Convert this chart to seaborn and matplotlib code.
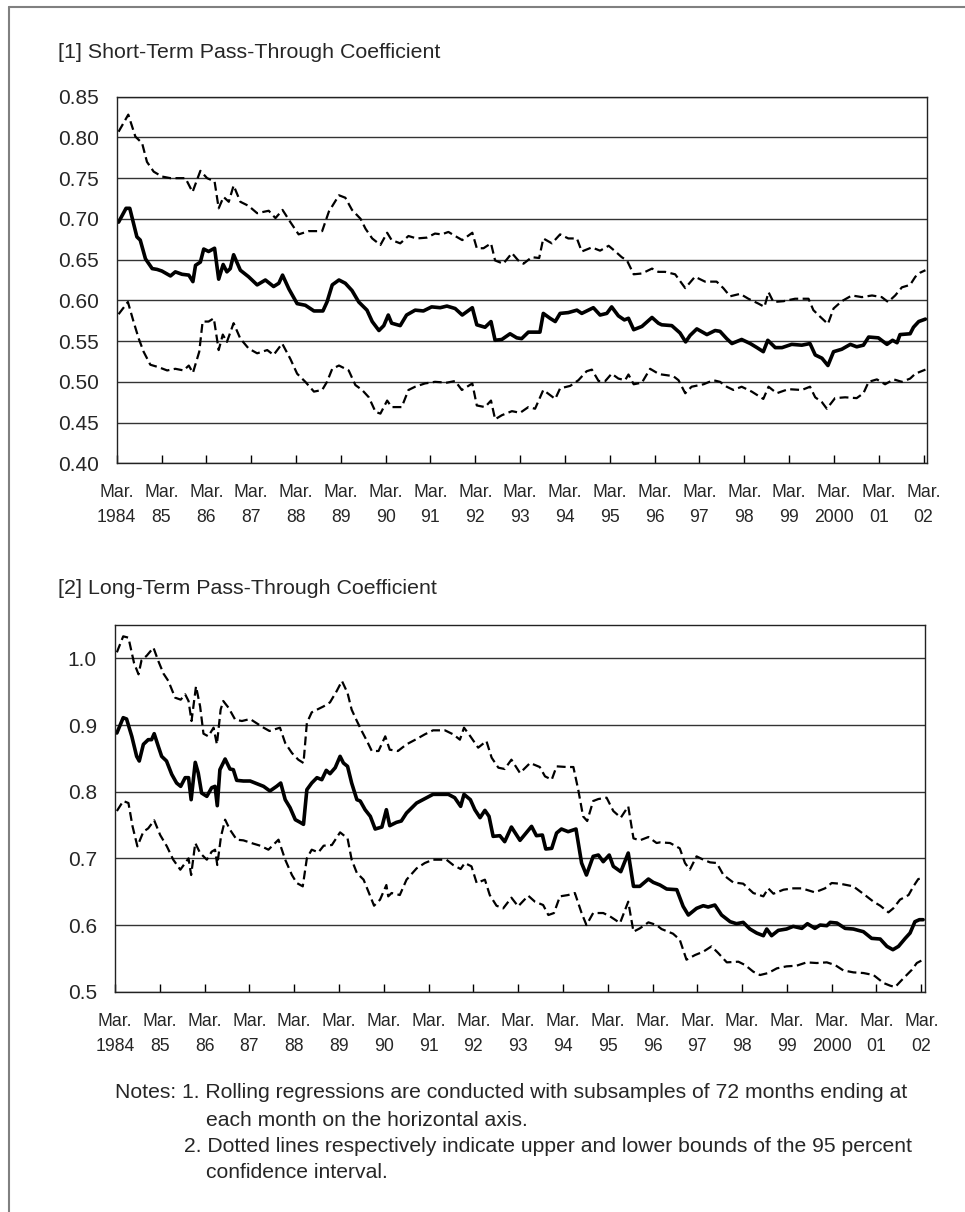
import matplotlib
matplotlib.use("Agg")
import matplotlib.pyplot as plt
from matplotlib.lines import Line2D
import seaborn as sns

# month index: 0 = Mar. 1984 ... 216 = Mar. 2002

# [1] short-term pass-through coefficient
short_mid_month = [0, 2, 3, 4.9, 5.8, 7.2, 9, 10.3, 11.6, 13.9, 15.2, 17, 18.8, 19.9, 20.6, 21.9, 22.8, 24.1,
                   25.7, 26.8, 28, 29, 29.9, 30.8, 32.6, 34.8, 37.1, 39.3, 41.5, 42.9, 43.9, 45.6, 47.8, 50,
                   52.3, 54.7, 55.8, 57.2, 59, 60.7, 62.5, 64.3, 66.5, 67.9, 69.7, 71, 72.2, 73.1, 75.4, 77.1,
                   79.4, 81.6, 83.8, 86.1, 87.9, 90.1, 92, 93.2, 94.7, 95.9, 98.1, 99.7, 100.8, 102.6, 104.8,
                   106.6, 107.9, 109.7, 112.8, 113.7, 115.5, 116.9, 118.2, 120.4, 122.7, 124, 127.1, 128.9,
                   130.7, 132, 133.8, 135.4, 136.5, 137.9, 140.1, 142.8, 144.5, 145.4, 148.1, 150.3, 151.8,
                   153, 154.8, 157.5, 159.7, 161, 162.8, 164.2, 166.8, 169.1, 170.9, 172.6, 173.8, 175.8,
                   177.6, 180.2, 182.9, 185.1, 186.5, 188.3, 189.9, 191.4, 193.6, 195.9, 197.6, 199.4, 200.8,
                   203.4, 205.7, 207.2, 208.4, 209.2, 211.9, 212.8, 214.2, 216]
short_mid_value = [0.696, 0.713, 0.713, 0.678, 0.674, 0.651, 0.639, 0.638, 0.636, 0.630, 0.635, 0.632, 0.631,
                   0.623, 0.643, 0.647, 0.663, 0.660, 0.664, 0.626, 0.644, 0.635, 0.639, 0.656, 0.637, 0.629,
                   0.619, 0.625, 0.617, 0.621, 0.631, 0.614, 0.596, 0.594, 0.587, 0.587, 0.598, 0.619, 0.625,
                   0.621, 0.612, 0.598, 0.588, 0.574, 0.563, 0.569, 0.582, 0.572, 0.569, 0.582, 0.588, 0.587,
                   0.592, 0.591, 0.593, 0.590, 0.582, 0.586, 0.591, 0.570, 0.567, 0.574, 0.551, 0.552, 0.559,
                   0.554, 0.553, 0.561, 0.561, 0.584, 0.578, 0.574, 0.584, 0.585, 0.588, 0.584, 0.591, 0.582,
                   0.584, 0.592, 0.581, 0.576, 0.578, 0.564, 0.568, 0.579, 0.572, 0.570, 0.569, 0.560, 0.549,
                   0.557, 0.565, 0.558, 0.563, 0.562, 0.553, 0.547, 0.552, 0.547, 0.542, 0.537, 0.551, 0.542,
                   0.542, 0.546, 0.545, 0.547, 0.533, 0.529, 0.520, 0.537, 0.540, 0.546, 0.543, 0.545, 0.555,
                   0.554, 0.546, 0.551, 0.548, 0.558, 0.559, 0.567, 0.574, 0.577]

short_up_month = [0, 2.6, 4.5, 6.3, 7.6, 9.4, 11.6, 13.9, 16.1, 17.9, 19.8, 21.9, 23.7, 25.7, 26.8, 28.1, 29.5,
                  30.8, 32.6, 34.8, 37.1, 40.2, 42, 43.9, 46, 48.2, 50.9, 54.5, 56.3, 59, 60.7, 62.5, 64.8,
                  66.1, 67.9, 70.1, 71.9, 73.1, 75.4, 77.6, 79.8, 82.5, 84.7, 86.5, 88.3, 90.1, 92, 94.7, 95.9,
                  97.7, 99.7, 100.8, 103, 105.3, 107, 108.4, 110.6, 112.6, 113.7, 116, 118.2, 120.4, 122.7,
                  124, 126.7, 128.9, 131.2, 133, 134.7, 136.1, 137.9, 140.1, 142.8, 144.5, 146.3, 149, 151.7,
                  154.3, 157, 160.1, 161.9, 163.7, 166.4, 168.6, 171.3, 172.9, 174, 175.3, 178, 181.1, 184.7,
                  186, 187.8, 189.9, 191.4, 193.6, 196.3, 199, 201.7, 204.3, 206, 207.9, 209.7, 211.9, 213.3,
                  214.6, 216]
short_up_value = [0.807, 0.828, 0.801, 0.793, 0.770, 0.758, 0.752, 0.750, 0.750, 0.750, 0.733, 0.759, 0.750,
                  0.746, 0.713, 0.727, 0.721, 0.741, 0.721, 0.716, 0.707, 0.710, 0.701, 0.711, 0.696, 0.681,
                  0.685, 0.685, 0.709, 0.729, 0.726, 0.711, 0.700, 0.688, 0.676, 0.668, 0.683, 0.674, 0.670,
                  0.679, 0.676, 0.677, 0.682, 0.681, 0.684, 0.679, 0.674, 0.683, 0.664, 0.664, 0.670, 0.649,
                  0.645, 0.658, 0.649, 0.645, 0.653, 0.652, 0.676, 0.670, 0.681, 0.676, 0.676, 0.660, 0.665,
                  0.661, 0.667, 0.660, 0.653, 0.649, 0.632, 0.633, 0.639, 0.635, 0.635, 0.632, 0.615, 0.629,
                  0.623, 0.623, 0.615, 0.605, 0.608, 0.602, 0.596, 0.592, 0.610, 0.598, 0.599, 0.602, 0.602,
                  0.588, 0.580, 0.571, 0.590, 0.599, 0.606, 0.604, 0.606, 0.604, 0.598, 0.606, 0.616, 0.619,
                  0.629, 0.634, 0.637]

short_lo_month = [0, 2.5, 4, 5.4, 6.7, 8.5, 10.7, 13, 15.2, 17.4, 18.8, 19.9, 21.6, 22.5, 24.1, 25.5, 26.8, 27.9,
                  29, 30.8, 32.6, 34.8, 37.1, 39.8, 41.5, 43.8, 46, 47.8, 50, 52.3, 54.5, 55.8, 57.2, 59, 61.6,
                  63.4, 65.2, 67, 68.8, 70.1, 71.9, 73.1, 75.8, 77.6, 79.4, 82, 84.7, 87.9, 90.1, 91.9, 94.7,
                  95.9, 98.1, 99.7, 100.8, 102.6, 105.3, 107.5, 109.7, 111.5, 113.7, 116.9, 118.2, 120.9, 123.1,
                  125.3, 126.7, 128.5, 130.3, 132, 133.8, 135.6, 136.5, 137.9, 140.1, 142.3, 144.5, 145.4, 148.5,
                  149.9, 151.7, 153.4, 156.6, 159.2, 161, 162.8, 164.6, 166.8, 169.5, 172.6, 174, 176.2, 179.3,
                  182.9, 185.1, 186.5, 188.3, 189.6, 191.8, 194.5, 197.6, 199.4, 200.8, 203, 205.2, 207.5,
                  209.7, 211.9, 213.3, 216]
short_lo_value = [0.583, 0.598, 0.574, 0.553, 0.537, 0.521, 0.518, 0.514, 0.516, 0.514, 0.520, 0.511, 0.537,
                  0.574, 0.574, 0.578, 0.539, 0.558, 0.549, 0.572, 0.553, 0.541, 0.535, 0.539, 0.533, 0.547,
                  0.528, 0.510, 0.500, 0.488, 0.490, 0.500, 0.516, 0.520, 0.514, 0.496, 0.490, 0.481, 0.463,
                  0.461, 0.477, 0.469, 0.469, 0.490, 0.494, 0.498, 0.500, 0.499, 0.501, 0.490, 0.498, 0.471,
                  0.469, 0.477, 0.454, 0.459, 0.464, 0.462, 0.469, 0.467, 0.490, 0.479, 0.492, 0.495, 0.502,
                  0.513, 0.515, 0.501, 0.501, 0.510, 0.504, 0.502, 0.509, 0.497, 0.499, 0.516, 0.510, 0.509,
                  0.507, 0.502, 0.486, 0.494, 0.497, 0.502, 0.500, 0.494, 0.490, 0.494, 0.488, 0.479, 0.494,
                  0.486, 0.491, 0.490, 0.494, 0.481, 0.475, 0.467, 0.480, 0.481, 0.480, 0.486, 0.500, 0.503,
                  0.497, 0.503, 0.500, 0.504, 0.510, 0.515]

# [2] long-term pass-through coefficient
long_mid_month = [0, 1.7, 2.6, 4, 5.3, 6, 7.1, 8.4, 9.3, 10, 11.1, 12, 13.3, 14.7, 16, 17.1, 18.3, 19.2, 19.9, 21,
                  21.8, 22.7, 24.1, 25.4, 26.3, 26.9, 27.6, 29, 30.3, 31.2, 32.1, 33.9, 35.7, 37.5, 39.3, 41,
                  42.8, 43.9, 45.1, 46.4, 47.8, 49.1, 50, 50.9, 52.2, 53.6, 54.9, 56.1, 57.1, 58.5, 59.8, 60.7,
                  61.8, 62.9, 64.3, 65.2, 66.5, 67.9, 69.2, 71, 72.2, 73.1, 74.9, 76.2, 77.6, 80.3, 82, 84.7,
                  88.8, 90.5, 92.1, 93, 94.7, 95.9, 97.3, 98.6, 99.7, 100.8, 102.6, 103.9, 105.7, 108, 111.1,
                  112.4, 114, 114.9, 116.5, 117.8, 119.1, 120.9, 123, 124.5, 125.8, 127.6, 129, 130.3, 131.9,
                  133, 135, 137, 138.4, 140.1, 142.4, 143.7, 145.5, 147.3, 150, 151.7, 153.1, 155.3, 157.1,
                  158.4, 160.2, 162, 164.3, 166, 167.8, 169.6, 171.4, 173.2, 174.1, 175.4, 177.2, 179.4, 181.2,
                  183.5, 185, 187, 188.4, 190.2, 191.1, 192.9, 195.1, 197.3, 200, 202.2, 204.5, 206.3, 207.9,
                  209.4, 211.2, 212.5, 213.8, 215, 216]
long_mid_value = [0.888, 0.911, 0.909, 0.883, 0.853, 0.846, 0.871, 0.878, 0.878, 0.887, 0.868, 0.853, 0.846,
                  0.826, 0.813, 0.808, 0.821, 0.821, 0.788, 0.844, 0.828, 0.798, 0.793, 0.806, 0.808, 0.779,
                  0.833, 0.849, 0.834, 0.833, 0.817, 0.816, 0.816, 0.812, 0.808, 0.801, 0.808, 0.813, 0.788,
                  0.776, 0.758, 0.754, 0.751, 0.803, 0.813, 0.821, 0.818, 0.832, 0.827, 0.836, 0.853, 0.843,
                  0.838, 0.813, 0.788, 0.786, 0.773, 0.763, 0.744, 0.747, 0.773, 0.749, 0.754, 0.756, 0.768,
                  0.783, 0.788, 0.796, 0.796, 0.791, 0.778, 0.796, 0.788, 0.773, 0.761, 0.772, 0.763, 0.733,
                  0.734, 0.725, 0.747, 0.727, 0.748, 0.734, 0.735, 0.714, 0.715, 0.738, 0.744, 0.740, 0.744,
                  0.693, 0.675, 0.703, 0.705, 0.695, 0.705, 0.688, 0.680, 0.708, 0.658, 0.658, 0.669, 0.664,
                  0.660, 0.654, 0.653, 0.628, 0.615, 0.625, 0.629, 0.627, 0.630, 0.615, 0.605, 0.602, 0.604,
                  0.594, 0.588, 0.584, 0.594, 0.584, 0.592, 0.594, 0.598, 0.595, 0.602, 0.595, 0.600, 0.599,
                  0.604, 0.603, 0.595, 0.594, 0.590, 0.580, 0.579, 0.568, 0.563, 0.568, 0.580, 0.588, 0.605,
                  0.608, 0.608]

long_up_month = [0, 1.7, 3.1, 4.6, 5.8, 6.6, 8, 9.8, 11.1, 12.5, 13.8, 15.6, 17.1, 18.3, 19.2, 20, 21.2, 22.3,
                 23.2, 24.5, 25.9, 26.8, 27.8, 28.5, 29.9, 31.7, 33.5, 35.7, 37.9, 39.3, 40.9, 43.7, 45.1, 46.9,
                 48.6, 50, 50.9, 52.2, 53.6, 55.4, 57.1, 58.9, 60.3, 61.8, 62.9, 64.3, 65.6, 67, 68.3, 70.1,
                 71.9, 73.1, 75.3, 77.6, 80.3, 82.5, 84.7, 87.9, 90.1, 91.9, 93, 94.7, 96.8, 99, 100.4, 102.2,
                 103.9, 105.7, 108, 110.7, 113.3, 114.7, 116.5, 117.8, 120.5, 122.3, 123.6, 124.9, 126, 127.6,
                 129, 131.2, 133, 135, 137, 138.4, 140.1, 142.4, 144.6, 145.5, 148.2, 150.8, 152.2, 153.5,
                 155.3, 157.1, 158.9, 160.7, 162.5, 165.1, 167.8, 170.5, 173.2, 174.5, 175.9, 178.6, 181.2,
                 183.5, 187, 189.7, 191.5, 193.7, 197.3, 200.4, 202.7, 204.5, 206.7, 208, 209.8, 212.1, 213.4,
                 214.7, 216]
long_up_value = [1.009, 1.033, 1.031, 0.993, 0.976, 0.997, 1.004, 1.016, 0.996, 0.977, 0.966, 0.941, 0.938,
                 0.946, 0.936, 0.906, 0.958, 0.928, 0.887, 0.883, 0.896, 0.871, 0.923, 0.936, 0.926, 0.908,
                 0.906, 0.909, 0.901, 0.896, 0.891, 0.896, 0.873, 0.858, 0.848, 0.843, 0.903, 0.919, 0.923,
                 0.928, 0.934, 0.951, 0.966, 0.948, 0.923, 0.906, 0.891, 0.876, 0.861, 0.861, 0.883, 0.863,
                 0.861, 0.871, 0.879, 0.886, 0.892, 0.892, 0.886, 0.878, 0.896, 0.883, 0.866, 0.876, 0.851,
                 0.836, 0.834, 0.848, 0.828, 0.843, 0.837, 0.823, 0.818, 0.838, 0.837, 0.837, 0.803, 0.763,
                 0.756, 0.786, 0.789, 0.791, 0.771, 0.761, 0.778, 0.730, 0.727, 0.732, 0.723, 0.724, 0.723,
                 0.715, 0.693, 0.683, 0.703, 0.698, 0.694, 0.693, 0.675, 0.664, 0.662, 0.648, 0.643, 0.655,
                 0.647, 0.653, 0.655, 0.655, 0.649, 0.655, 0.663, 0.662, 0.658, 0.645, 0.635, 0.629, 0.619,
                 0.625, 0.638, 0.645, 0.658, 0.669, 0.670]

long_lo_month = [0, 1.7, 3.1, 4.2, 5.5, 7.1, 8.4, 10, 11.6, 13.4, 15.1, 17, 18.3, 19.2, 19.9, 21, 22.3, 24.1,
                 25.4, 26.3, 26.9, 27.9, 29, 30.3, 32.1, 33.9, 36.6, 38.4, 40.6, 43.3, 45.1, 46.9, 48.2, 49.8,
                 50.9, 52.2, 54, 55.4, 57.6, 59.8, 61.8, 62.9, 64.3, 66.1, 67.4, 68.9, 70.5, 72.2, 72.7, 73.6,
                 75.8, 77.6, 80.3, 82.5, 84.7, 88.3, 90.1, 92.1, 93.2, 95, 96.4, 98.6, 99.9, 101.7, 103.5,
                 105.7, 107.5, 110.2, 112, 114.2, 115.6, 117.1, 118.7, 120.9, 122.7, 124.5, 125.8, 127.6,
                 130.3, 132.1, 134.8, 137, 138.4, 140.1, 142.4, 144.6, 145.9, 149, 150.8, 152.6, 154.9, 157.1,
                 159.3, 161.1, 163.4, 166.5, 168.3, 170.5, 172.3, 174.5, 176.8, 179.4, 182.1, 184.8, 187.5,
                 190.2, 192.4, 194.6, 197.3, 200, 202.7, 205.4, 207.2, 208.5, 210.7, 213, 214.3, 216]
long_lo_value = [0.771, 0.786, 0.783, 0.748, 0.718, 0.740, 0.745, 0.757, 0.735, 0.718, 0.698, 0.683, 0.693,
                 0.700, 0.675, 0.723, 0.708, 0.698, 0.710, 0.713, 0.690, 0.733, 0.758, 0.743, 0.728, 0.727,
                 0.722, 0.719, 0.713, 0.728, 0.698, 0.675, 0.663, 0.658, 0.700, 0.713, 0.709, 0.719, 0.720,
                 0.739, 0.730, 0.698, 0.678, 0.668, 0.650, 0.629, 0.638, 0.660, 0.643, 0.648, 0.645, 0.668,
                 0.685, 0.693, 0.698, 0.698, 0.690, 0.684, 0.693, 0.688, 0.663, 0.668, 0.645, 0.629, 0.625,
                 0.641, 0.628, 0.644, 0.635, 0.630, 0.615, 0.618, 0.643, 0.645, 0.648, 0.618, 0.600, 0.618,
                 0.618, 0.613, 0.603, 0.635, 0.590, 0.595, 0.604, 0.600, 0.594, 0.587, 0.578, 0.548, 0.555,
                 0.560, 0.568, 0.558, 0.544, 0.545, 0.540, 0.530, 0.525, 0.528, 0.535, 0.538, 0.539, 0.544,
                 0.543, 0.544, 0.540, 0.532, 0.529, 0.528, 0.525, 0.513, 0.509, 0.507, 0.520, 0.533, 0.543,
                 0.548]

tick_years = ["1984", "85", "86", "87", "88", "89", "90", "91", "92", "93", "94", "95", "96", "97", "98",
              "99", "2000", "01", "02"]

sns.set_theme(style="white")
plt.rcParams["font.family"] = ["Liberation Sans", "DejaVu Sans"]

W, H = 965, 1212
fig = plt.figure(figsize=(W / 100, H / 100), dpi=100)


def px_axes(left, top, right, bottom):
    return fig.add_axes([left / W, 1 - bottom / H, (right - left) / W, (bottom - top) / H])


def draw_panel(ax, mid, up, lo, ylim, yticks, yfmt):
    for months, values in (up, lo):
        sns.lineplot(x=months, y=values, ax=ax, color="black", linewidth=1.6,
                     linestyle=(0, (4, 2)), estimator=None)
    sns.lineplot(x=mid[0], y=mid[1], ax=ax, color="black", linewidth=2.6, estimator=None)

    ax.set_xlim(-0.5, 216.5)
    ax.set_ylim(*ylim)
    ax.set_yticks(yticks)
    ax.set_yticklabels([yfmt.format(v) for v in yticks])
    ax.yaxis.grid(True, color="#333333", linewidth=1.0)
    ax.xaxis.grid(False)
    ax.set_axisbelow(True)

    ax.set_xticks([-0.5 + 12 * k for k in range(len(tick_years))])
    ax.set_xticklabels(["Mar.\n" + y for y in tick_years])
    for lab in ax.get_xticklabels():
        lab.set_linespacing(1.62)
    ax.tick_params(axis="x", direction="in", length=6, width=1, color="black",
                   labelsize=12.7, pad=15, bottom=True)
    ax.tick_params(axis="y", length=0, labelsize=15, pad=13)
    for sp in ax.spines.values():
        sp.set_color("#222222")
        sp.set_linewidth(1.0)
    ax.set_xlabel("")
    ax.set_ylabel("")


ax1 = px_axes(116.7, 96.7, 927.3, 463.3)
draw_panel(ax1, (short_mid_month, short_mid_value), (short_up_month, short_up_value),
           (short_lo_month, short_lo_value), (0.40, 0.85),
           [0.40, 0.45, 0.50, 0.55, 0.60, 0.65, 0.70, 0.75, 0.80, 0.85], "{:.2f}")

ax2 = px_axes(115, 625, 925, 991.7)
draw_panel(ax2, (long_mid_month, long_mid_value), (long_up_month, long_up_value),
           (long_lo_month, long_lo_value), (0.5, 1.05),
           [0.5, 0.6, 0.7, 0.8, 0.9, 1.0], "{:.1f}")

fig.text(58 / W, 1 - 53 / H, "[1] Short-Term Pass-Through Coefficient", fontsize=15.4, va="center", ha="left")
fig.text(58 / W, 1 - 588 / H, "[2] Long-Term Pass-Through Coefficient", fontsize=15.4, va="center", ha="left")

notes = [
    (115, 1093, "Notes: 1. Rolling regressions are conducted with subsamples of 72 months ending at"),
    (206, 1120, "each month on the horizontal axis."),
    (184, 1147, "2. Dotted lines respectively indicate upper and lower bounds of the 95 percent"),
    (206, 1173, "confidence interval."),
]
for x, y, txt in notes:
    fig.text(x / W, 1 - y / H, txt, fontsize=15.2, va="center", ha="left")

# page frame (top and left edges)
fig.add_artist(Line2D([9 / W, 1], [1 - 7 / H, 1 - 7 / H], transform=fig.transFigure, color="#808080", lw=1.5))
fig.add_artist(Line2D([9 / W, 9 / W], [0, 1 - 7 / H], transform=fig.transFigure, color="#808080", lw=1.5))

fig.savefig("out.png", dpi=100)
